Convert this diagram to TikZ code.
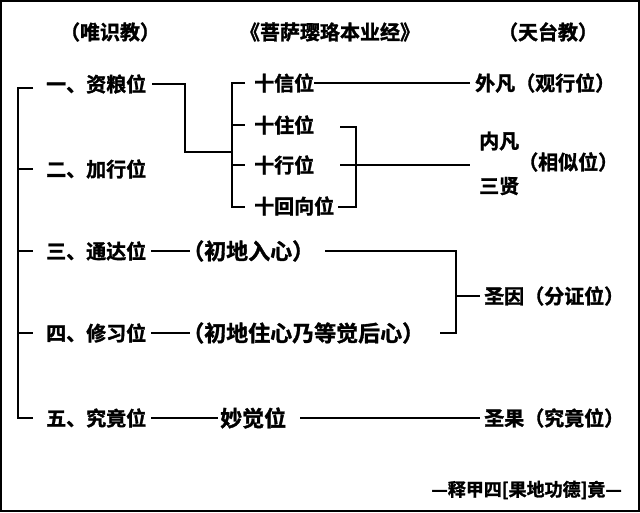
\documentclass[tikz,border=0pt]{standalone}
\usepackage{fontspec}
\newfontfamily\cjk[BoldFont={Noto Sans CJK SC Bold},BoldFeatures={FakeBold=1.5}]{Noto Sans CJK SC}
\begin{document}
\begin{tikzpicture}[x=1pt,y=-1pt,
  t/.style={anchor=west,inner sep=0pt,font=\cjk\bfseries\fontsize{20}{20}\selectfont},
  tb/.style={t,font=\cjk\bfseries\fontsize{22}{22}\selectfont},
  ln/.style={line width=1.6pt}]
\useasboundingbox (0,0) rectangle (640,512);
\draw[line width=2pt] (1,1) rectangle (639,511);
% headers
\node[t,anchor=center] (h1) at (110,32) {（唯识教）};
\node[t,anchor=center] (h2) at (330,32) {《菩萨璎珞本业经》};
\node[t,anchor=center] (h3) at (548,32) {（天台教）};
% left column
\node[t] (a1) at (46,84) {一、资粮位};
\node[t] (a2) at (46,169) {二、加行位};
\node[t] (a3) at (46,251) {三、通达位};
\node[t] (a4) at (46,333) {四、修习位};
\node[t] (a5) at (46,418) {五、究竟位};
\draw[ln] (33,88) -- (18,88) -- (18,418) -- (33,418);
\foreach \y in {169,251,333} \draw[ln] (18,\y) -- (33,\y);
% middle
\node[t] (b1) at (254,83) {十信位};
\node[t] (b2) at (254,125) {十住位};
\node[t] (b3) at (254,165) {十行位};
\node[t] (b4) at (254,206) {十回向位};
\draw[ln] (152,84) -- (185,84) -- (185,152) -- (232,152);
\draw[ln] (245,83) -- (232,83) -- (232,207) -- (245,207);
\foreach \y in {125,165} \draw[ln] (232,\y) -- (245,\y);
\draw[ln] (340,127) -- (356,127) -- (356,207) -- (338,207);
\draw[ln] (340,165) -- (470,165);
\draw[ln] (314,83) -- (470,83);
% right
\node[t] (c1) at (475,83) {外凡（观行位）};
\node[t] (c2) at (479,141) {内凡};
\node[t] (c3) at (479,186) {三贤};
\node[t] (c4) at (518,162) {（相似位）};
% rows 3-5
\node[tb] (m3) at (182,251) {（初地入心）};
\node[tb] (m4) at (182,333) {（初地住心乃等觉后心）};
\node[tb] (m5) at (220,418) {妙觉位};
\draw[ln] (151,251) -- (190,251);
\draw[ln] (151,333) -- (190,333);
\draw[ln] (151,418) -- (218,418);
\draw[ln] (325,251) -- (456,251) -- (456,333) -- (440,333);
\draw[ln] (456,296) -- (480,296);
\node[t] (c5) at (484,296) {圣因（分证位）};
\draw[ln] (300,418) -- (480,418);
\node[t] (c6) at (484,418) {圣果（究竟位）};
\node[t,anchor=east,font=\cjk\bfseries\fontsize{18}{18}\selectfont] (f) at (622,490) {—释甲四[果地功德]竟—};
\end{tikzpicture}
\end{document}
